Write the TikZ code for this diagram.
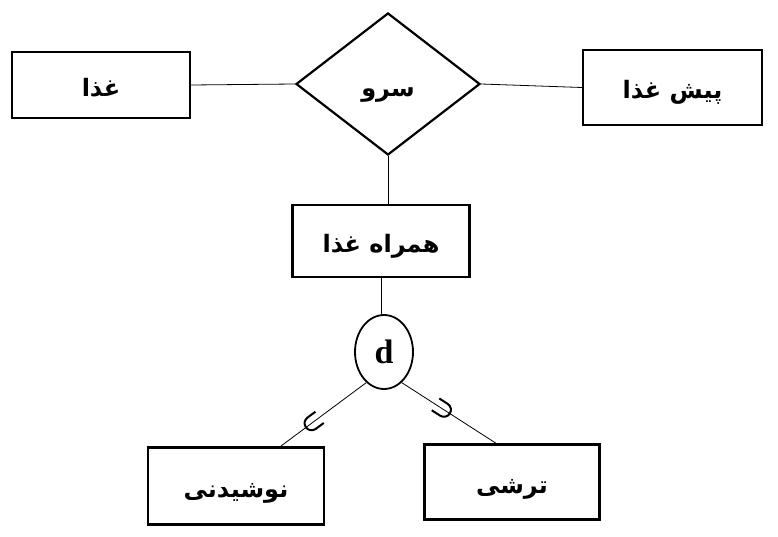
\documentclass[tikz,border=0pt]{standalone}
\usepackage{fontspec}
\usetikzlibrary{shapes.geometric,calc}
\TeXXeTstate=1
\newfontfamily\arabicfont[Script=Arabic]{DejaVu Sans}
\newfontfamily\dfont{Liberation Serif}
\newcommand{\fa}[1]{{\arabicfont\bfseries\fontsize{24}{27}\selectfont\beginR #1\endR}}
\tikzset{
  entity/.style={draw, line width=2.4pt, rectangle, inner sep=0pt, text height=23pt, text depth=0pt},
  relbox/.style={draw, line width=2.2pt, diamond, inner sep=0pt, minimum width=184pt, minimum height=142pt, text height=25pt, text depth=0pt},
  disj/.style={draw, line width=1.8pt, ellipse, inner sep=0pt, minimum width=58pt, minimum height=74pt},
  conn/.style={line width=0.8pt},
  subsetpic/.pic={\draw[line width=2pt] (8,-7) -- (-2,-7) arc (270:90:7) -- (8,7);}
}
\begin{document}
\begin{tikzpicture}[x=1pt,y=-1pt]
\useasboundingbox (0,0) rectangle (778,537);
\node[entity, minimum width=178pt, minimum height=66pt] (food) at (101,85) {\fa{غذا}};
\node[entity, minimum width=179pt, minimum height=75pt] (app) at (672.5,87.5) {\fa{پیش غذا}};
\node[relbox] (serve) at (388,84) {\fa{سرو}};
\node[entity, minimum width=177pt, minimum height=72pt] (side) at (381,241) {\fa{همراه غذا}};
\node[disj] (d) at (384,352) {\dfont\bfseries\fontsize{34}{36}\selectfont d};
\node[entity, minimum width=176pt, minimum height=77pt] (drink) at (236,486) {\fa{نوشیدنی}};
\node[entity, minimum width=175pt, minimum height=75pt] (pickle) at (512,482) {\fa{ترشی}};
\coordinate (drinktop) at ($(drink.north west)!0.75!(drink.north east)$);
\coordinate (pickletop) at ($(pickle.north west)!0.41!(pickle.north east)$);
\draw[conn] (food.east) -- (serve.west);
\draw[conn] (serve.east) -- (app.west);
\draw[conn] (serve.south) -- (serve.south |- side.north);
\draw[conn] (side.south) -- (side.south |- d.north);
\draw[conn] (drinktop) -- pic[pos=0.38, sloped, allow upside down]{subsetpic} (d.240);
\draw[conn] (pickletop) -- pic[pos=0.57, sloped, allow upside down]{subsetpic} (d.300);
\end{tikzpicture}
\end{document}
